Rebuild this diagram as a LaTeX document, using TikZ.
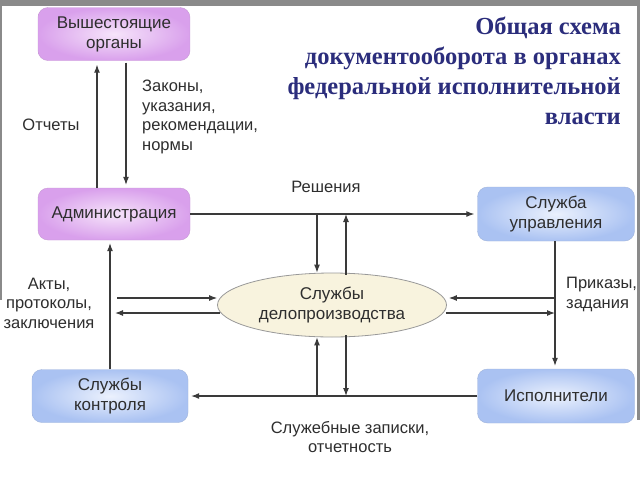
\documentclass[tikz,border=0pt]{standalone}
\usepackage{fontspec}
\setmainfont{Liberation Sans}
\newfontfamily\titlefont{Liberation Serif}
\usetikzlibrary{shapes.geometric,arrows.meta}
\definecolor{pinkout}{HTML}{D9A0EC}
\definecolor{pinkin}{HTML}{F6E4FA}
\definecolor{blueout}{HTML}{AAC2F2}
\definecolor{bluein}{HTML}{EBF1FD}
\definecolor{cream}{HTML}{F8F3DE}
\definecolor{linec}{HTML}{3A3A3A}
\definecolor{txtc}{HTML}{2E2E2E}
\definecolor{navy}{HTML}{2B2D7C}
\definecolor{framec}{HTML}{8A8A8A}
\tikzset{
  pinkbox/.style={rounded corners=10pt, inner color=pinkin, outer color=pinkout,
    draw=pinkout!80!gray, line width=0.4pt, align=center, text=txtc,
    font=\fontsize{17}{20}\selectfont},
  bluebox/.style={rounded corners=10pt, inner color=bluein, outer color=blueout,
    draw=blueout!80!gray, line width=0.4pt, align=center, text=txtc,
    font=\fontsize{17}{20}\selectfont},
  ellbox/.style={ellipse, fill=cream, draw=gray!80, line width=0.8pt,
    minimum width=229pt, minimum height=64pt, inner sep=0pt, align=center,
    text=txtc, font=\fontsize{17}{20}\selectfont},
  arr/.style={draw=linec, line width=1.1pt, -{Latex[length=8pt,width=6pt]}},
  lbl/.style={text=txtc, font=\fontsize{16.5}{19.5}\selectfont, inner sep=0pt},
  ttl/.style={text=navy, font=\titlefont\bfseries\fontsize{24.5}{30}\selectfont,
    align=right, inner sep=0pt}
}
\begin{document}
\begin{tikzpicture}[x=1pt,y=-1pt]
\useasboundingbox (0,0) rectangle (640,480);
\fill[white] (0,0) rectangle (640,480);
\fill[framec] (0,0) rectangle (640,6);
\fill[framec] (0,0) rectangle (2,300);
\fill[framec] (637,0) rectangle (640,420);

% boxes
\node[pinkbox, minimum width=152pt, minimum height=53pt] (vo) at (114,34) {Вышестоящие\\органы};
\node[pinkbox, minimum width=152pt, minimum height=52pt] (adm) at (114,214) {Администрация};
\node[bluebox, minimum width=157pt, minimum height=54pt] (su) at (556,214) {Служба\\управления};
\node[bluebox, minimum width=157pt, minimum height=54pt] (isp) at (556,396) {Исполнители};
\node[bluebox, minimum width=156pt, minimum height=53pt] (sk) at (110,396) {Службы\\контроля};
\node[ellbox] (del) at (332,305) {Службы\\делопроизводства};

% title
\node[ttl, anchor=north east] (title) at (621,17) {Общая схема\\документооборота в органах\\федеральной исполнительной\\власти};

% top pair
\draw[arr, shorten >=4pt] ([xshift=-17pt]adm.north) -- ([xshift=-17pt]vo.south);
\draw[arr, shorten <=2pt, shorten >=3pt] ([xshift=12pt]vo.south) -- ([xshift=12pt]adm.north);

% Решения
\draw[arr, shorten >=3pt] (adm.east) -- (su.west);
\coordinate (rd) at (317,214);
\coordinate (ru) at (346,214);
\draw[arr] (rd) -- ([xshift=-15pt]del.north);
\draw[arr] ([xshift=14pt,yshift=-2pt]del.north) -- (ru);

% bottom line
\draw[arr, shorten >=3pt] (isp.west) -- (sk.east);
\coordinate (bu) at (317,396);
\coordinate (bd) at (346,396);
\draw[arr] (bu) -- ([xshift=-15pt]del.south);
\draw[arr] ([xshift=14pt,yshift=2pt]del.south) -- (bd);

% left vertical
\draw[arr, shorten >=3pt] (sk.north) -- (sk.north |- adm.south);
\coordinate (la1) at (117,298);
\coordinate (la2) at (115,313);
\draw[arr] (la1) -- ([yshift=7pt]del.west);
\draw[arr] ([yshift=-8pt,xshift=3pt]del.west) -- (la2);

% right vertical
\draw[arr, shorten >=3pt] ([xshift=-1pt]su.south) -- ([xshift=-1pt]isp.north);
\coordinate (ra1) at (555,298);
\coordinate (ra2) at (555,313);
\draw[arr] (ra1) -- ([yshift=7pt,xshift=2pt]del.east);
\draw[arr] ([yshift=-8pt,xshift=-1pt]del.east) -- (ra2);

% labels
\node[lbl] (l1) at (51,125) {Отчеты};
\node[lbl, align=left, anchor=north west] (l2) at (142,80) {Законы,\\указания,\\рекомендации,\\нормы};
\node[lbl] (l3) at (326,187) {Решения};
\node[lbl, align=center] (l4) at (49,303) {Акты,\\протоколы,\\заключения};
\node[lbl, align=left, anchor=north west] (l5) at (566,277) {Приказы,\\задания};
\node[lbl, align=center] (l6) at (350,437) {Служебные записки,\\отчетность};
\end{tikzpicture}
\end{document}
